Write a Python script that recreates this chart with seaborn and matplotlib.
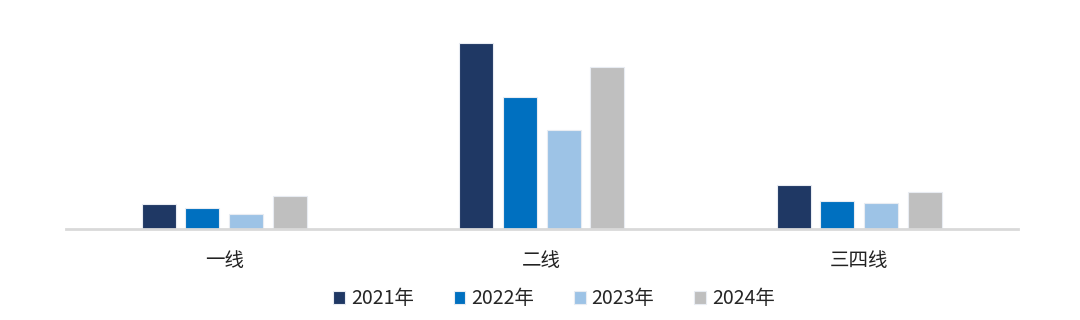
import matplotlib
matplotlib.use("Agg")
import matplotlib.pyplot as plt
import seaborn as sns
import pandas as pd

categories = ["一线", "二线", "三四线"]
years = ["2021年", "2022年", "2023年", "2024年"]
v2021 = [25, 186, 44]
v2022 = [21, 132, 28.5]
v2023 = [15, 99, 26.5]
v2024 = [33, 162, 37]
colors = ["#1F3864", "#0070C0", "#9DC3E6", "#BFBFBF"]

rows = []
for yr, vals in zip(years, [v2021, v2022, v2023, v2024]):
    for c, v in zip(categories, vals):
        rows.append({"cat": c, "year": yr, "val": v})
df = pd.DataFrame(rows)

sns.set_theme(style="white")
plt.rcParams['font.family'] = ['Noto Sans CJK SC', 'DejaVu Sans']

fig = plt.figure(figsize=(10.8, 3.2), dpi=100)
ax = fig.add_axes([65.5 / 1080, 91 / 320, (1018 - 65.5) / 1080, 210 / 320])
sns.barplot(data=df, x="cat", y="val", hue="year", order=categories, hue_order=years,
            palette=colors, width=0.55, gap=0.22, ax=ax, edgecolor="#e8ecf2", linewidth=0.8,
            saturation=1)
ax.set_xlim(-0.5, 2.5)
ax.set_ylim(0, 210)
ax.set_xlabel("")
ax.set_ylabel("")
ax.set_yticks([])
for s in ["top", "right", "left"]:
    ax.spines[s].set_visible(False)
ax.spines["bottom"].set_color("#d9d9d9")
ax.spines["bottom"].set_linewidth(2)
ax.tick_params(axis="x", length=0, pad=15, labelsize=14, colors="#222222")

handles, labels = ax.get_legend_handles_labels()
ax.legend(handles, labels, loc="center", bbox_to_anchor=(554 / 1080, 1 - 299 / 320),
          bbox_transform=fig.transFigure, ncol=4, frameon=False, fontsize=14,
          handlelength=0.6, handleheight=0.6, handletextpad=0.3, columnspacing=2.05)

fig.savefig("out.png", dpi=100)
